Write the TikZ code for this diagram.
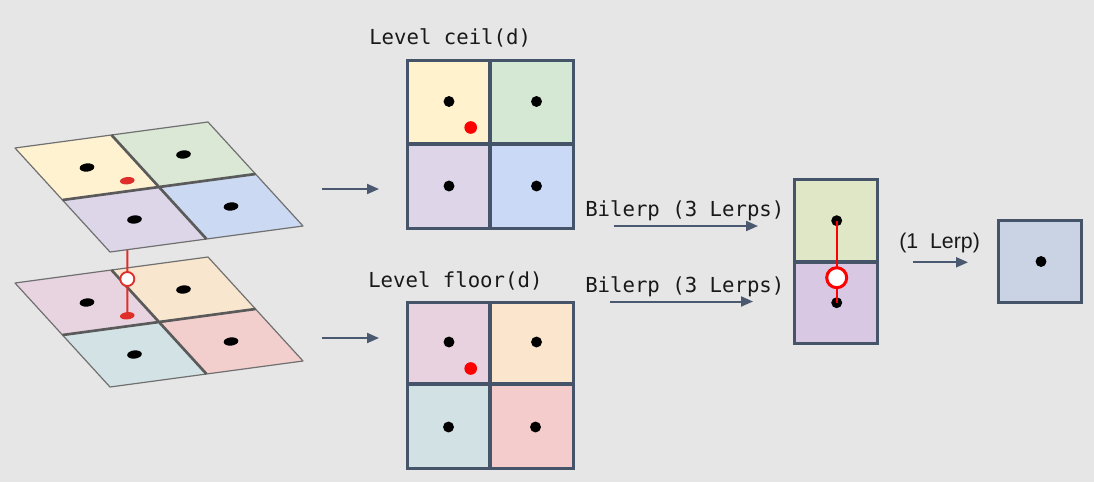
\documentclass[tikz,border=0pt]{standalone}
\usepackage{fontspec}
\setmonofont{DejaVu Sans Mono}
\setsansfont{Liberation Sans}
\usetikzlibrary{arrows.meta,shapes.geometric,calc}
\definecolor{bg}{HTML}{E6E6E6}
\definecolor{slate}{HTML}{465469}
\definecolor{arr}{HTML}{4A5870}
\definecolor{cYel}{HTML}{FFF2CC}
\definecolor{cGrn}{HTML}{D5E8D4}
\definecolor{cLav}{HTML}{DED5E9}
\definecolor{cBlu}{HTML}{CADAF6}
\definecolor{cPnk}{HTML}{E8D2E0}
\definecolor{cPch}{HTML}{FCE5CD}
\definecolor{cTea}{HTML}{D2E1E4}
\definecolor{cRos}{HTML}{F4CCCC}
\definecolor{tYel}{HTML}{FFF2D1}
\definecolor{tGrn}{HTML}{DAE8D5}
\definecolor{tLav}{HTML}{DDD6E9}
\definecolor{tBlu}{HTML}{CBDAF2}
\definecolor{tPnk}{HTML}{E8D4E0}
\definecolor{tPch}{HTML}{F9E6CF}
\definecolor{tTea}{HTML}{D3E2E5}
\definecolor{tRos}{HTML}{F2CFCD}
\definecolor{mGrn}{HTML}{DFE7C6}
\definecolor{mLav}{HTML}{D8C8E4}
\definecolor{fBlu}{HTML}{C9D3E4}
\definecolor{pedge}{HTML}{707070}
\definecolor{pdiv}{HTML}{5A5A5A}
\definecolor{redc}{HTML}{DE2F2A}
\newcommand\myplane[4]{%
  \fill[#1] (0,0)--(0.5,0)--(0.5,0.5)--(0,0.5)--cycle;
  \fill[#2] (0.5,0)--(1,0)--(1,0.5)--(0.5,0.5)--cycle;
  \fill[#3] (0,0.5)--(0.5,0.5)--(0.5,1)--(0,1)--cycle;
  \fill[#4] (0.5,0.5)--(1,0.5)--(1,1)--(0.5,1)--cycle;
  \draw[pedge, line width=0.9pt, line join=round] (0,0)--(1,0)--(1,1)--(0,1)--cycle;
  \draw[pdiv, line width=2pt] (0.5,0)--(0.5,1) (0,0.5)--(1,0.5);
  \node[tdot] at (0.25,0.25) {};
  \node[tdot] at (0.75,0.25) {};
  \node[tdot] at (0.25,0.75) {};
  \node[tdot] at (0.75,0.75) {};
}
\begin{document}
\begin{tikzpicture}[x=0.75pt,y=-0.75pt,
  tdot/.style={ellipse, fill=black, inner sep=0pt, minimum width=11pt, minimum height=6.2pt, rotate=6},
  tred/.style={ellipse, fill=redc, inner sep=0pt, minimum width=11pt, minimum height=5.5pt, rotate=6},
  dot/.style={circle, fill=black, inner sep=0pt, minimum size=8.2pt},
  reddot/.style={circle, fill=red, inner sep=0pt, minimum size=9.5pt},
  hollow/.style={circle, fill=white, draw=red, line width=#1, inner sep=0pt},
  grid/.style={draw=slate, line width=2.25pt},
  gdiv/.style={draw=slate, line width=3pt},
  flow/.style={arr, line width=1.5pt, -{Triangle[length=9pt,width=7.5pt]}},
  lbl/.style={font=\ttfamily\fontsize{15.5}{18}\selectfont, text=black!90, inner sep=0pt, anchor=base west},
  redline/.style={red, line width=1.5pt}
]
\fill[bg] (0,0) rectangle (1094,482);
\useasboundingbox (0,0) rectangle (1094,482);

% ---------- tilted planes ----------
\coordinate (rt) at (127.3,180.7);
\begin{scope}[shift={(15,283)}, x={(144.75pt,19.5pt)}, y={(71.25pt,-78pt)}]
  \myplane{tPnk}{tPch}{tTea}{tRos}
  \coordinate (rb) at (0.38,0.41);
\end{scope}
\draw[redline, draw=redc] (rt) -- (rb);
\node[tred] (rbdot) at (rb) {};
\node[hollow=1.4pt, draw=redc, minimum width=9.5pt, minimum height=10.5pt] (hol1) at (127.3,279) {};
\begin{scope}[shift={(15,148)}, x={(144.75pt,19.5pt)}, y={(71.25pt,-78pt)}]
  \myplane{tYel}{tGrn}{tLav}{tBlu}
\end{scope}
\node[tred] (rtdot) at (rt) {};

% ---------- flat grid: ceil ----------
\fill[cYel] (407,60) rectangle (490,144);
\fill[cGrn] (490,60) rectangle (573,144);
\fill[cLav] (407,144) rectangle (490,228);
\fill[cBlu] (490,144) rectangle (573,228);
\draw[gdiv] (490,60)--(490,228) (407,144)--(573,144);
\draw[grid] (407,60) rectangle (573,228);
\node[dot] at (449,101.5) {};
\node[dot] at (536.5,101.5) {};
\node[dot] at (449,186) {};
\node[dot] at (536.5,186) {};
\node[reddot] at (470.7,127.5) {};
\node[lbl] (lceil) at (369,44) {Level ceil(d)};

% ---------- flat grid: floor ----------
\fill[cPnk] (407,302) rectangle (490,384);
\fill[cPch] (490,302) rectangle (573,384);
\fill[cTea] (407,384) rectangle (490,468);
\fill[cRos] (490,384) rectangle (573,468);
\draw[gdiv] (490,302)--(490,468) (407,384)--(573,384);
\draw[grid] (407,302) rectangle (573,468);
\node[dot] at (449,342) {};
\node[dot] at (536.5,342) {};
\node[dot] at (448.5,427) {};
\node[dot] at (535.5,427) {};
\node[reddot] at (470.7,368.5) {};
\node[lbl] (lfloor) at (368,287) {Level floor(d)};

% ---------- left arrows ----------
\coordinate (a1s) at (322,189);
\coordinate (a1e) at (379,189);
\coordinate (a2s) at (322,338);
\coordinate (a2e) at (379,338);
\draw[flow] (a1s) -- (a1e);
\draw[flow] (a2s) -- (a2e);

% ---------- bilerp ----------
\node[lbl] (bl1) at (585,216) {Bilerp (3 Lerps)};
\node[lbl] (bl2) at (585,292) {Bilerp (3 Lerps)};
\coordinate (b1s) at (614,226);
\coordinate (b1e) at (758,226);
\coordinate (b2s) at (610,301.5);
\coordinate (b2e) at (753,301.5);
\draw[flow] (b1s) -- (b1e);
\draw[flow] (b2s) -- (b2e);

% ---------- middle column ----------
\fill[mGrn] (794,179) rectangle (877,262);
\fill[mLav] (794,262) rectangle (877,343);
\draw[gdiv] (794,262)--(877,262);
\draw[grid] (794,179) rectangle (877,343);
\node[dot] (m1) at (836.7,220.7) {};
\node[dot] (m2) at (836.7,302.7) {};
\draw[redline, line width=1.2pt] (m1.center) -- (m2.center);
\node[hollow=2.25pt, minimum size=15pt] (hol2) at (836.7,277.7) {};

% ---------- final ----------
\node[font=\sffamily\fontsize{16}{19}\selectfont, text=black!90, inner sep=0pt, anchor=base west] (l1) at (899,248) {(1\hspace{0.28em} Lerp)};
\coordinate (c1s) at (913,262.3);
\coordinate (c1e) at (968,262.3);
\draw[flow] (c1s) -- (c1e);
\fill[fBlu] (998,220) rectangle (1081,302);
\draw[grid] (998,220) rectangle (1081,302);
\node[dot] (f1) at (1041,261.5) {};
\end{tikzpicture}
\end{document}
